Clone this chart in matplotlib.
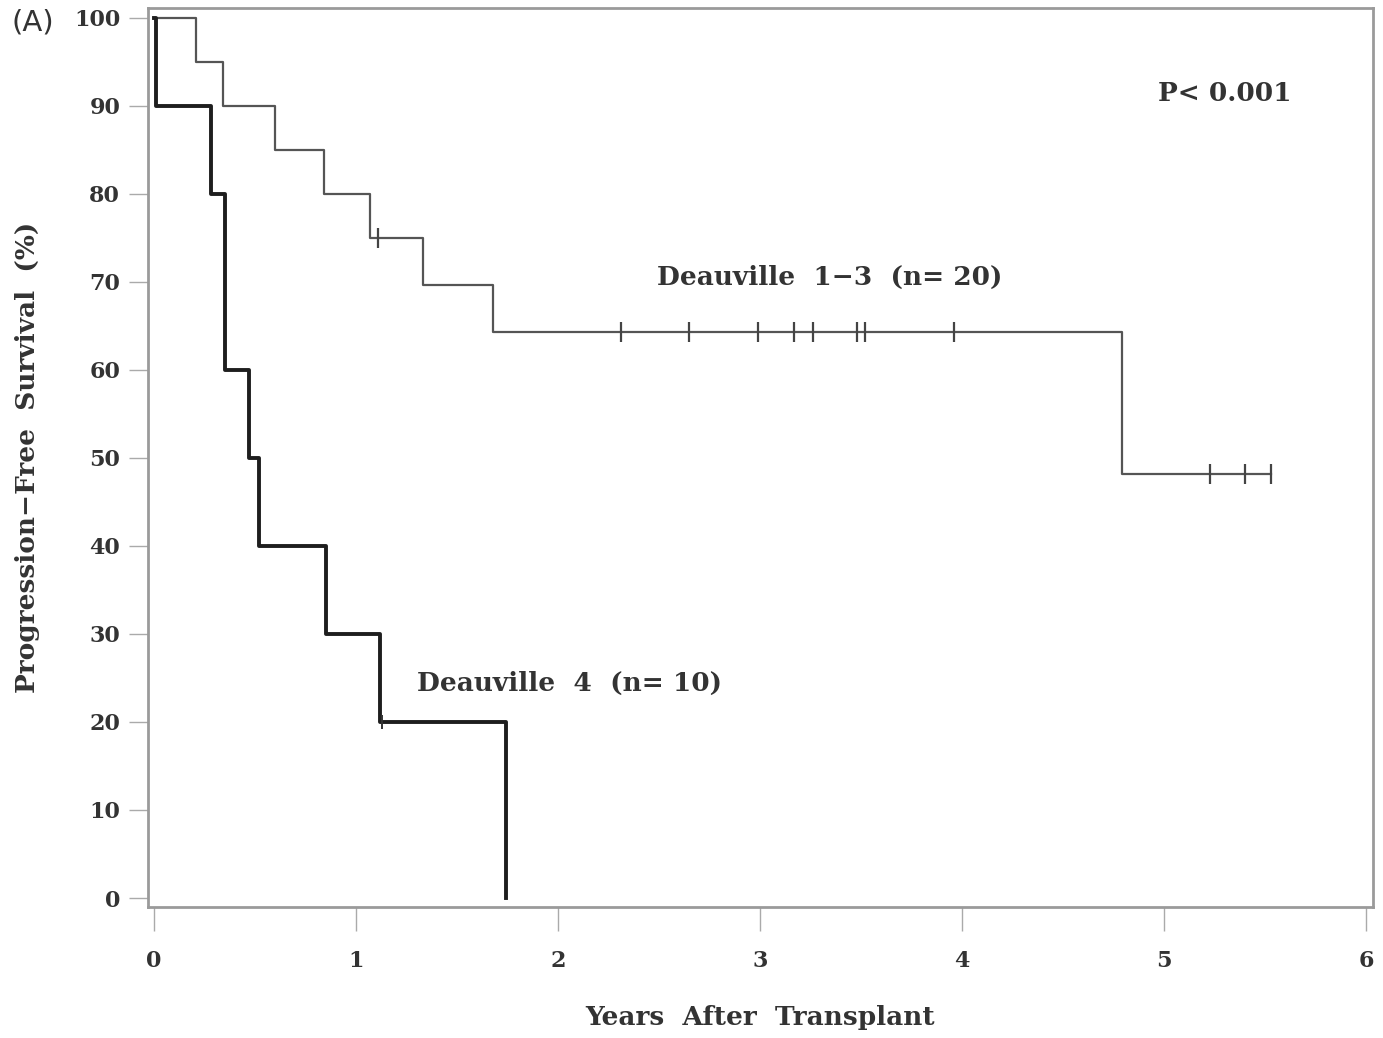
import matplotlib
matplotlib.use("Agg")
import matplotlib.pyplot as plt
import numpy as np

# Kaplan-Meier step data (years, survival %)
grp1_label = "Deauville  1\u22123  (n= 20)"
grp1_times = [0.0, 0.21, 0.34, 0.60, 0.84, 1.07, 1.33, 1.68, 4.79, 5.53]
grp1_surv = [100.0, 95.0, 90.0, 85.0, 80.0, 75.0, 69.6, 64.3, 48.2, 48.2]
grp1_censor_t = [1.11, 2.31, 2.65, 2.99, 3.17, 3.26, 3.48, 3.52, 3.96, 5.23, 5.40, 5.53]
grp1_censor_s = [75.0, 64.3, 64.3, 64.3, 64.3, 64.3, 64.3, 64.3, 64.3, 48.2, 48.2, 48.2]

grp2_label = "Deauville  4  (n= 10)"
grp2_times = [0.0, 0.01, 0.28, 0.35, 0.47, 0.52, 0.85, 1.12, 1.74]
grp2_surv = [100.0, 90.0, 80.0, 60.0, 50.0, 40.0, 30.0, 20.0, 0.0]
grp2_censor_t = [1.13]
grp2_censor_s = [20.0]

x_ticks = [0, 1, 2, 3, 4, 5, 6]
y_ticks = [0, 10, 20, 30, 40, 50, 60, 70, 80, 90, 100]
p_text = "P< 0.001"

serif = ["DejaVu Serif"]
ink = "#333333"

fig = plt.figure(figsize=(13.83, 10.38), dpi=100)
ax = fig.add_axes([0.107, 0.1262, 0.8858, 0.8661])

ax.step(grp1_times, grp1_surv, where="post", color="#555555", lw=1.6, zorder=3)
ax.plot(grp1_censor_t, grp1_censor_s, ls="none", marker="|", ms=14, mew=1.6,
        color="#444444", zorder=4)

ax.step(grp2_times, grp2_surv, where="post", color="#1e1e1e", lw=2.8, zorder=3)
ax.plot(grp2_censor_t, grp2_censor_s, ls="none", marker="|", ms=10, mew=1.4,
        color="#333333", zorder=4)

ax.set_xlim(-0.03, 6.035)
ax.set_ylim(-1.02, 101.1)
ax.set_xticks(x_ticks)
ax.set_yticks(y_ticks)
ax.set_xticklabels([str(v) for v in x_ticks], family=serif, fontweight="bold",
                   fontsize=16, color=ink)
ax.set_yticklabels([str(v) for v in y_ticks], family=serif, fontweight="bold",
                   fontsize=16, color=ink)
ax.tick_params(axis="x", length=17, width=1.0, color="#aaaaaa", pad=14)
ax.tick_params(axis="y", length=14, width=1.0, color="#aaaaaa", pad=6)

for sp in ax.spines.values():
    sp.set_color("#9a9a9a")
    sp.set_linewidth(2.0)

ax.set_xlabel("Years  After  Transplant", family=serif, fontweight="bold",
              fontsize=19, color=ink, labelpad=24)
ax.set_ylabel("Progression\u2212Free  Survival  (%)", family=serif, fontweight="bold",
              fontsize=19, color=ink)
ax.yaxis.set_label_coords(-0.088, 0.5)

ax.text(4.97, 91.4, p_text, family=serif, fontweight="bold", fontsize=19,
        color=ink, ha="left", va="center")
ax.text(2.49, 70.5, grp1_label, family=serif, fontweight="bold", fontsize=19,
        color=ink, ha="left", va="center")
ax.text(1.30, 24.4, grp2_label, family=serif, fontweight="bold", fontsize=19,
        color=ink, ha="left", va="center")

fig.text(0.008, 0.978, "(A)", family="DejaVu Sans", fontsize=21, color=ink,
         ha="left", va="center")

fig.savefig("out.png", dpi=100, facecolor="white")
